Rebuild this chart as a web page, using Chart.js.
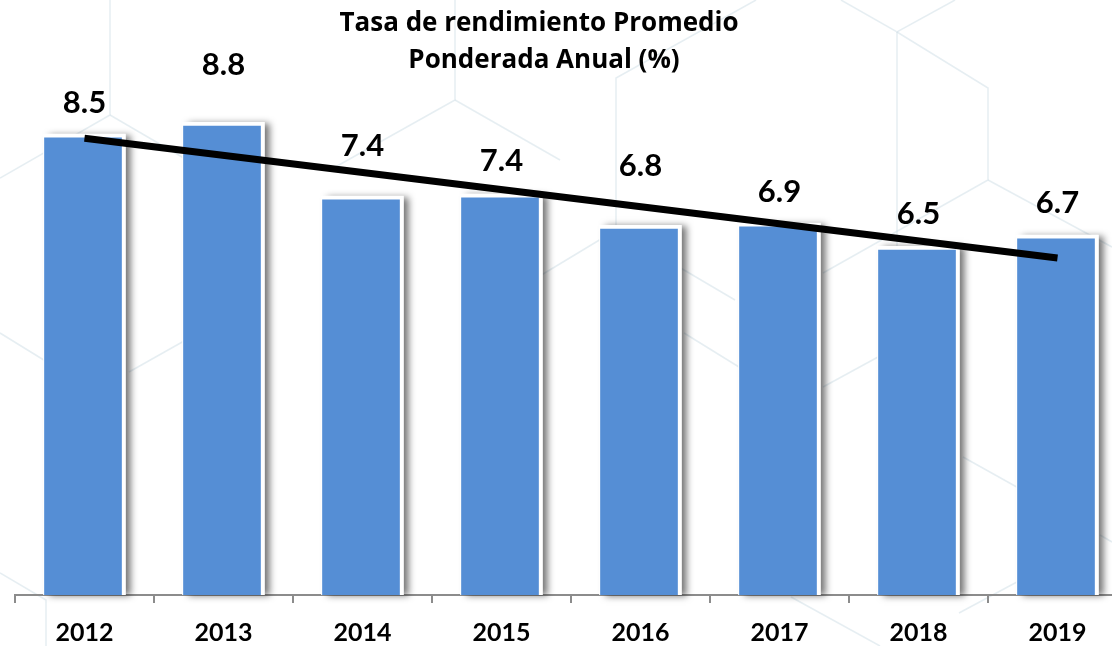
<!DOCTYPE html>
<html>
<head>
<meta charset="utf-8">
<script src="https://cdn.jsdelivr.net/npm/chart.js@4/dist/chart.umd.min.js"></script>
<style>
  html, body { margin: 0; padding: 0; background: #ffffff; overflow: hidden; width: 1112px; height: 646px; }
  #wrap { position: absolute; left: 0; top: 0; width: 1200px; height: 646px; }
</style>
</head>
<body>
<div id="wrap"><canvas id="c" width="1200" height="646"></canvas></div>
<script>
// ---- data ----
const years = ['2012', '2013', '2014', '2015', '2016', '2017', '2018', '2019'];
const rates = [8.54, 8.76, 7.39, 7.43, 6.85, 6.89, 6.46, 6.67];
const trend = [8.46, null, null, null, null, null, null, 6.24];
const titleLines = ['Tasa de rendimiento Promedio', 'Ponderada Anual (%)'];

// ---- style ----
const FONT = 'Lato, "Open Sans", sans-serif';
const TITLE_FONT = '"Open Sans", Lato, sans-serif';
const BAR_BLUE = '#558ED5';
const AXIS_GREY = '#8c8c8c';
const labelLift = [31, 57, 50, 33, 59, 31, 32, 32];

const hexSegments = [
  [[110,0],[110,115],[0,178]], [[110,115],[230,185]],
  [[455,0],[455,100],[330,170]], [[455,100],[560,160]],
  [[756,0],[616,78],[616,230],[735,300]], [[616,230],[500,300]],
  [[841,0],[897,32],[955,0]], [[897,32],[897,330]], [[897,32],[988,88],[988,180],[823,273]],
  [[988,180],[1112,247]],
  [[684,333],[760,380]], [[823,387],[900,345]], [[963,457],[1040,500]],
  [[0,333],[60,370]], [[129,372],[200,332]], [[0,573],[46,600],[46,646]],
  [[959,613],[1030,575]], [[791,597],[880,646]], [[1100,535],[1112,542]]
];

const bgPlugin = {
  id: 'bg',
  beforeDraw(chart) {
    const ctx = chart.ctx;
    ctx.save();
    ctx.fillStyle = '#ffffff';
    ctx.fillRect(0, 0, chart.width, chart.height);
    ctx.strokeStyle = 'rgba(205,222,230,0.5)';
    ctx.lineWidth = 1.5;
    hexSegments.forEach(seg => {
      ctx.beginPath();
      seg.forEach((p, i) => i ? ctx.lineTo(p[0], p[1]) : ctx.moveTo(p[0], p[1]));
      ctx.stroke();
    });
    ctx.restore();
  }
};

const titlePlugin = {
  id: 'titleText',
  afterDraw(chart) {
    const ctx = chart.ctx;
    ctx.save();
    ctx.font = 'bold 26px ' + TITLE_FONT;
    ctx.fillStyle = '#000000';
    ctx.textAlign = 'center';
    ctx.textBaseline = 'alphabetic';
    ctx.fillText(titleLines[0], 539, 31);
    ctx.fillText(titleLines[1], 544, 68);
    ctx.restore();
  }
};

const shadowPlugin = {
  id: 'barShadow',
  beforeDatasetDraw(chart, args) {
    if (args.meta.type !== 'bar') return;
    const ctx = chart.ctx;
    ctx.save();
    ctx.shadowColor = 'rgba(0,0,0,0.55)';
    ctx.shadowBlur = 7;
    ctx.shadowOffsetX = 5;
    ctx.shadowOffsetY = 1;
    ctx.fillStyle = '#ffffff';
    args.meta.data.forEach(bar => {
      const w = bar.width;
      ctx.fillRect(bar.x - w / 2, bar.y, w, bar.base - bar.y);
    });
    ctx.restore();
  }
};

const labelPlugin = {
  id: 'valueLabels',
  afterDatasetsDraw(chart) {
    const meta = chart.getDatasetMeta(0);
    const ctx = chart.ctx;
    ctx.save();
    ctx.font = 'bold 31px ' + FONT;
    ctx.fillStyle = '#000000';
    ctx.textAlign = 'center';
    ctx.textBaseline = 'middle';
    meta.data.forEach((bar, i) => {
      ctx.fillText(rates[i].toFixed(1), bar.x, bar.y - labelLift[i]);
    });
    ctx.restore();
  }
};

new Chart(document.getElementById('c'), {
  data: {
    labels: years,
    datasets: [
      {
        type: 'bar',
        data: rates,
        backgroundColor: BAR_BLUE,
        borderColor: '#ffffff',
        borderWidth: { top: 4, right: 4, left: 1, bottom: 0 },
        borderSkipped: 'start',
        barThickness: 82,
        order: 2
      },
      {
        type: 'line',
        data: trend,
        spanGaps: true,
        borderColor: '#000000',
        borderWidth: 7,
        borderCapStyle: 'butt',
        pointRadius: 0,
        fill: false,
        order: 1
      }
    ]
  },
  options: {
    responsive: false,
    animation: false,
    devicePixelRatio: 1,
    layout: { padding: { left: 15, right: 73, top: 55, bottom: 0 } },
    plugins: { legend: { display: false }, tooltip: { enabled: false }, title: { display: false } },
    scales: {
      y: { display: false, min: 0, max: 10 },
      x: {
        offset: true,
        afterFit(scale) { scale.height = 51; },
        grid: { display: true, drawOnChartArea: false, drawTicks: true, tickLength: 8, color: AXIS_GREY, lineWidth: 2, offset: true },
        border: { display: true, color: AXIS_GREY, width: 2 },
        ticks: { color: '#000000', font: { family: FONT, size: 25, weight: 'bold' }, padding: 15, maxRotation: 0 }
      }
    }
  },
  plugins: [bgPlugin, shadowPlugin, labelPlugin, titlePlugin]
});
</script>
</body>
</html>
